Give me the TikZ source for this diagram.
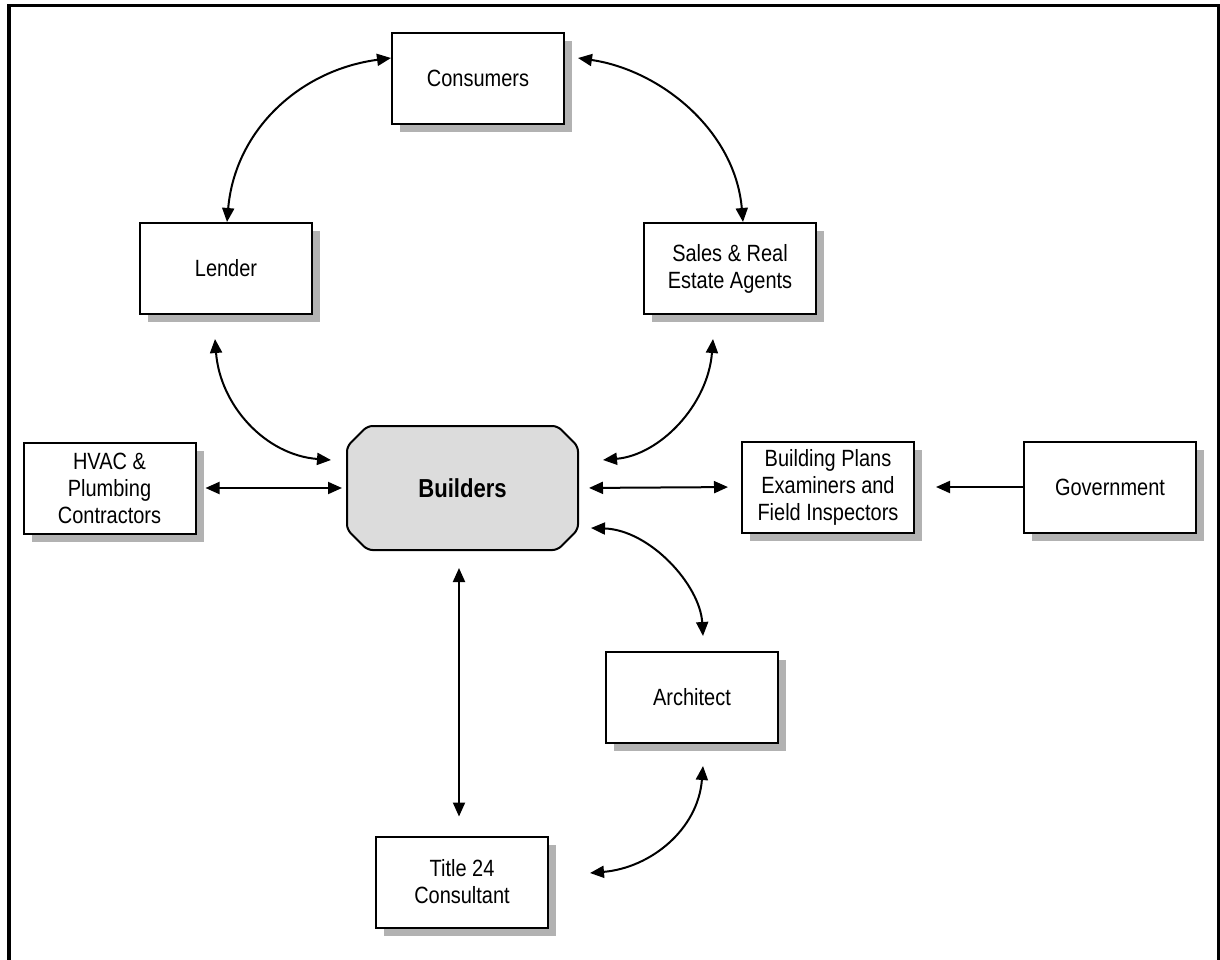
\documentclass[tikz,border=0pt]{standalone}
\usepackage{fontspec}
\setmainfont{Liberation Sans}
\newfontfamily\boxfont{Liberation Sans}[FakeStretch=0.85]
\usetikzlibrary{arrows.meta,shadows,shapes.misc}
\definecolor{shadowgray}{HTML}{B2B2B2}
\definecolor{hubfill}{HTML}{DCDCDC}
\begin{document}
\begin{tikzpicture}[x=1pt,y=-1pt,
  party/.style={draw, line width=2pt, fill=white,
    minimum width=172pt, minimum height=91pt, inner sep=0pt,
    align=center, font=\boxfont\fontsize{23.5}{27}\selectfont,
    drop shadow={shadow xshift=8pt, shadow yshift=-8pt,
      fill=shadowgray, opacity=1}},
  hub/.style={draw, line width=2pt, fill=hubfill,
    shape=chamfered rectangle, chamfered rectangle xsep=11pt,
    chamfered rectangle ysep=11pt, rounded corners=5pt,
    minimum width=231pt, minimum height=124pt, inner sep=0pt,
    font=\boxfont\bfseries\fontsize{26}{30}\selectfont},
  tip/.tip={Triangle[length=14pt,width=12pt]},
  link/.style={line width=2pt, tip-tip},
  oneway/.style={line width=2pt, -tip}
]
\clip (0,0) rectangle (1220,960);
% page frame, open at the bottom
\draw[line width=3.6pt] (8.7,975) -- (8.7,5.6) -- (1219,5.6) -- (1219,975);

% parties
\node[party] (consumers) at (478,78.5)  {Consumers};
\node[party] (lender)    at (226,268.5) {Lender};
\node[party] (sales)     at (730,268.5) {Sales \& Real\\Estate Agents};
\node[party] (hvac)      at (109.5,488) {HVAC \&\\Plumbing\\Contractors};
\node[party] (plans)     at (828,487)   {Building Plans\\Examiners and\\Field Inspectors};
\node[party] (gov)       at (1110,487)  {Government};
\node[party] (architect) at (692,697.5) {Architect};
\node[party] (title)     at (462,882)   {Title 24\\Consultant};
\node[hub]   (builders)  at (462.5,488) {Builders};

% connectors
\draw[link] ([yshift=20.5pt]consumers.west)
  .. controls (300,70) and (235,130) .. ([xshift=1pt]lender.north);
\draw[link] ([xshift=13pt,yshift=20.5pt]consumers.east)
  .. controls (660,70) and (735,130) .. ([xshift=13pt]sales.north);
\draw[link] ([xshift=-11pt,yshift=-24pt]lender.south)
  .. controls (220,405) and (265,455) .. ([xshift=-15pt,yshift=28pt]builders.west);
\draw[link] ([xshift=-17pt,yshift=-24pt]sales.south)
  .. controls (708,405) and (660,455) .. ([xshift=24pt,yshift=28pt]builders.east);
\draw[link, shorten <=9pt, shorten >=4pt] (hvac.east) -- (builders.west);
\draw[link, shorten <=10pt, shorten >=13pt] (builders.east) -- (plans.west);
\draw[oneway, shorten >=21pt] (gov.west) -- (plans.east);
\draw[link] ([xshift=12pt,yshift=-40pt]builders.east)
  .. controls (650,530) and (700,585) .. ([xshift=11pt,yshift=15pt]architect.north);
\draw[link, shorten <=17pt, shorten >=19pt] ([xshift=-3.5pt]builders.south) -- ([xshift=-3pt]title.north);
\draw[link] ([xshift=11pt,yshift=-22pt]architect.south)
  .. controls (698,830) and (650,868) .. ([xshift=41pt,yshift=9pt]title.east);
\end{tikzpicture}
\end{document}
